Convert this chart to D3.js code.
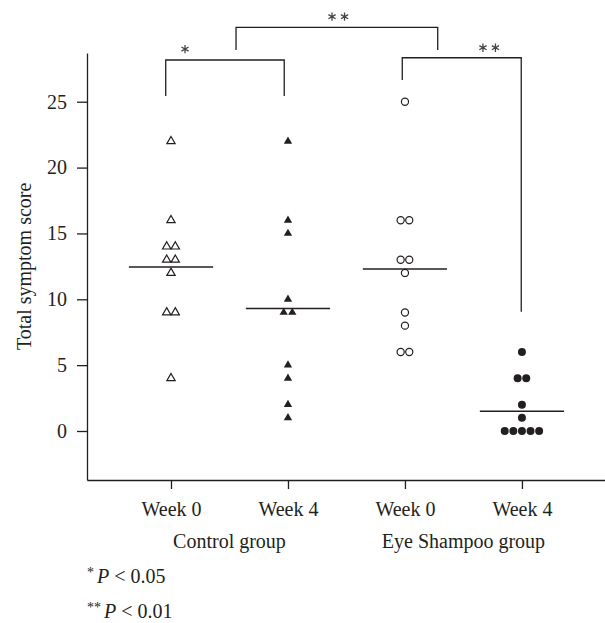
<!DOCTYPE html>
<html>
<head>
<meta charset="utf-8">
<title>Total symptom score</title>
<script src="https://d3js.org/d3.v7.min.js"></script>
<style>
body { margin: 0; background: #fff; }
text { font-family: "Liberation Serif", "Times New Roman", serif; fill: #231f20; }
</style>
</head>
<body>
<script>
// values
var categories = ["Week 0", "Week 4", "Week 0", "Week 4"];
var groups = ["Control group", "Eye Shampoo group"];
var controlWeek0 = [22, 16, 14, 14, 13, 13, 12, 9, 9, 4];
var controlWeek4 = [22, 16, 15, 10, 9, 9, 5, 4, 2, 1];
var shampooWeek0 = [25, 16, 16, 13, 13, 12, 9, 8, 6, 6];
var shampooWeek4 = [6, 4, 4, 2, 1, 0, 0, 0, 0, 0];
var meanLines = [12.45, 9.3, 12.3, 1.5];
var yTicks = [0, 5, 10, 15, 20, 25];

// significance brackets (x in category index units, y in score units)
var brackets = [
  { x0: -0.045, x1: 0.968, top: 28.17, leg0: 25.44, leg1: 25.44, stars: 1, sx: 0.12, sy: 29.0 },
  { x0: 0.556, x1: 2.28, top: 30.65, leg0: 28.93, leg1: 28.93, stars: 2, sx: 1.43, sy: 31.46 },
  { x0: 1.977, x1: 2.994, top: 28.34, leg0: 26.65, leg1: 9.06, stars: 2, sx: 2.72, sy: 29.1 }
];

var width = 605, height = 623;
var ink = "#231f20";

var svg = d3.select("body").append("svg")
  .attr("width", width)
  .attr("height", height);

var x = d3.scaleLinear().domain([-0.718, 3.71]).range([87, 605]);
var y = d3.scaleLinear().domain([-3.72, 28.7]).range([480, 53]);

// axes
svg.append("g")
  .attr("transform", "translate(" + x(-0.718) + ",0)")
  .call(d3.axisLeft(y).tickValues(yTicks).tickSize(10).tickPadding(10).tickSizeOuter(0));

svg.append("g")
  .attr("transform", "translate(0," + y(-3.72) + ")")
  .call(d3.axisBottom(x).tickValues([0, 1, 2, 3])
    .tickFormat(function(d) { return categories[d]; })
    .tickSize(9).tickPadding(13).tickSizeOuter(0));

svg.selectAll(".domain, .tick line").attr("stroke", ink).attr("stroke-width", 1.3);
svg.selectAll(".tick text")
  .attr("font-family", "Liberation Serif, serif")
  .attr("font-size", 20)
  .attr("fill", ink);

// group labels
svg.selectAll(".group")
  .data(groups)
  .enter().append("text")
  .attr("class", "group")
  .attr("x", function(d, i) { return x(i * 2 + 0.5); })
  .attr("y", 548)
  .attr("text-anchor", "middle")
  .attr("font-size", 20)
  .text(function(d) { return d; });

// y label
svg.append("text")
  .attr("transform", "translate(31," + y(12.5) + ") rotate(-90)")
  .attr("text-anchor", "middle")
  .attr("font-size", 20)
  .text("Total symptom score");

// points with side-by-side spread for ties
function spread(values, col) {
  var out = [];
  var counts = d3.rollup(values, function(v) { return v.length; }, function(d) { return d; });
  var seen = new Map();
  values.forEach(function(v) {
    var n = counts.get(v);
    var k = seen.get(v) || 0;
    seen.set(v, k + 1);
    out.push({ col: col, value: v, off: (k - (n - 1) / 2) * 8.6 });
  });
  return out;
}

var series = [controlWeek0, controlWeek4, shampooWeek0, shampooWeek4];
var styles = [
  { shape: d3.symbolTriangle, size: 30, fill: "none", stroke: ink },
  { shape: d3.symbolTriangle, size: 30, fill: ink, stroke: "none" },
  { shape: d3.symbolCircle, size: 40, fill: "none", stroke: ink },
  { shape: d3.symbolCircle, size: 50, fill: ink, stroke: "none" }
];

series.forEach(function(vals, i) {
  var st = styles[i];
  svg.append("g").selectAll("path")
    .data(spread(vals, i))
    .enter().append("path")
    .attr("d", d3.symbol().type(st.shape).size(st.size))
    .attr("transform", function(d) { return "translate(" + (x(d.col) + d.off) + "," + y(d.value) + ")"; })
    .attr("fill", st.fill)
    .attr("stroke", st.stroke)
    .attr("stroke-width", 1.2);
});

// mean lines
svg.append("g").selectAll("line")
  .data(meanLines)
  .enter().append("line")
  .attr("x1", function(d, i) { return x(i - 0.36); })
  .attr("x2", function(d, i) { return x(i + 0.36); })
  .attr("y1", function(d) { return y(d); })
  .attr("y2", function(d) { return y(d); })
  .attr("stroke", ink)
  .attr("stroke-width", 1.4);

// brackets
svg.append("g").selectAll("path")
  .data(brackets)
  .enter().append("path")
  .attr("fill", "none")
  .attr("stroke", ink)
  .attr("stroke-width", 1.3)
  .attr("d", function(b) {
    return "M" + x(b.x0) + "," + y(b.leg0) + "V" + y(b.top) + "H" + x(b.x1) + "V" + y(b.leg1);
  });

var starShape = d3.symbolAsterisk || d3.symbolCross;
brackets.forEach(function(b) {
  for (var k = 0; k < b.stars; k++) {
    var dx = (k - (b.stars - 1) / 2) * 12.5;
    svg.append("path")
      .attr("d", d3.symbol().type(starShape).size(48))
      .attr("transform", "translate(" + (x(b.sx) + dx) + "," + y(b.sy) + ")")
      .attr("fill", "none")
      .attr("stroke", "#444")
      .attr("stroke-width", 1.3);
  }
});

// footnotes
var notes = [["*", "0.05"], ["**", "0.01"]];
notes.forEach(function(n, i) {
  var t = svg.append("text")
    .attr("x", 87)
    .attr("y", 583 + i * 35)
    .attr("font-size", 20);
  t.append("tspan").attr("font-size", 14).attr("dy", -6).text(n[0]);
  t.append("tspan").attr("dy", 6).attr("dx", 3).attr("font-style", "italic").text("P");
  t.append("tspan").text(" < " + n[1]);
});
</script>
</body>
</html>
